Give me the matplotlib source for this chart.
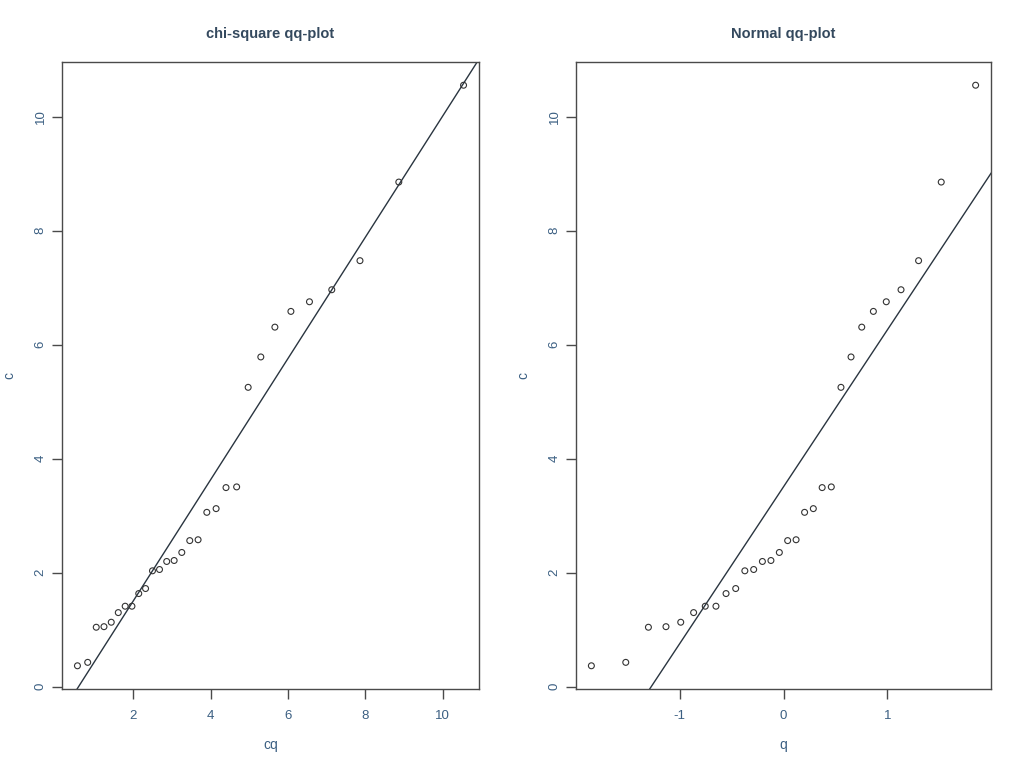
import matplotlib
matplotlib.use("Agg")
import matplotlib.pyplot as plt
import numpy as np

# sorted sample values
c = [0.369, 0.429, 1.045, 1.055, 1.133, 1.302, 1.414, 1.414, 1.636, 1.724,
     2.035, 2.058, 2.199, 2.216, 2.357, 2.565, 2.580, 3.061, 3.126, 3.495,
     3.507, 5.254, 5.787, 6.310, 6.586, 6.755, 6.966, 7.476, 8.855, 10.554]

# theoretical chi-square (df=4) quantiles at i/31
cq = [0.557, 0.822, 1.043, 1.243, 1.431, 1.613, 1.791, 1.966, 2.142, 2.318,
      2.497, 2.679, 2.865, 3.057, 3.255, 3.461, 3.676, 3.902, 4.142, 4.398,
      4.673, 4.971, 5.298, 5.662, 6.076, 6.556, 7.133, 7.862, 8.866, 10.540]

# theoretical normal quantiles at i/31
q = [-1.849, -1.518, -1.300, -1.131, -0.989, -0.865, -0.753, -0.650, -0.553, -0.460,
     -0.372, -0.287, -0.203, -0.121, -0.040, 0.040, 0.121, 0.203, 0.287, 0.372,
     0.460, 0.553, 0.650, 0.753, 0.865, 0.989, 1.131, 1.300, 1.518, 1.849]

panels = [
    ("chi-square qq-plot", cq, "cq", [2, 4, 6, 8, 10]),
    ("Normal qq-plot", q, "q", [-1, 0, 1]),
]

TXT = "#3b5f82"
TITLE = "#34495e"
AX = "#4a4a4a"

plt.rcParams["font.family"] = ["Liberation Sans", "DejaVu Sans"]
plt.rcParams["axes.unicode_minus"] = False

fig = plt.figure(figsize=(10.24, 7.66), dpi=100)
lefts = [62 / 1024, 576 / 1024]
widths = [417 / 1024, 415 / 1024]

for i, (title, x, xlab, xt) in enumerate(panels):
    ax = fig.add_axes([lefts[i], 77 / 766, widths[i], 627 / 766])
    xa = np.array(x)
    ya = np.array(c)

    ax.scatter(xa, ya, s=18, facecolors="none", edgecolors="#333333", linewidths=0.8, zorder=3)

    # least squares line c ~ x
    slope, icpt = np.polyfit(xa, ya, 1)
    ax.axline((0, icpt), slope=slope, color="#2a3540", lw=1.0)

    # R style 4% axis padding
    xr = xa.max() - xa.min()
    yr = ya.max() - ya.min()
    ax.set_xlim(xa.min() - 0.04 * xr, xa.max() + 0.04 * xr)
    ax.set_ylim(ya.min() - 0.04 * yr, ya.max() + 0.04 * yr)

    ax.set_xticks(xt)
    ax.set_yticks([0, 2, 4, 6, 8, 10])
    ax.tick_params(direction="out", length=7, width=1, color=AX,
                   labelcolor=TXT, labelsize=9.5)
    ax.tick_params(axis="x", pad=8)
    ax.tick_params(axis="y", pad=4, labelrotation=90)
    for lab in ax.get_yticklabels():
        lab.set_va("center")

    for s in ax.spines.values():
        s.set_color(AX)
        s.set_linewidth(1)

    ax.set_xlabel(xlab, color=TXT, fontsize=10, labelpad=12)
    ax.set_ylabel("c", color=TXT, fontsize=10, labelpad=13)
    ax.set_title(title, color=TITLE, fontsize=10.5, fontweight="bold", pad=17)

fig.savefig("out.png", dpi=100, facecolor="white")
